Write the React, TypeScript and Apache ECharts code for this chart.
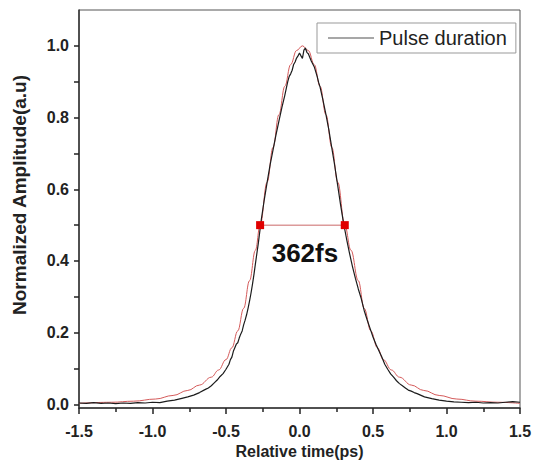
import React, { useEffect, useRef } from "react";
import * as echarts from "echarts";

// Measured autocorrelation trace (black)
const measuredX = [
  -1.5, -1.45, -1.4, -1.35, -1.3, -1.25, -1.2, -1.15, -1.1, -1.05, -1.0, -0.95, -0.9, -0.85, -0.8, -0.76,
  -0.72, -0.68, -0.64, -0.62, -0.6, -0.58, -0.56, -0.54, -0.52, -0.5, -0.48, -0.47, -0.46, -0.45, -0.44,
  -0.43, -0.42, -0.41, -0.4, -0.39, -0.38, -0.37, -0.36, -0.35, -0.34, -0.33, -0.32, -0.31, -0.3, -0.28,
  -0.26, -0.24, -0.22, -0.2, -0.18, -0.16, -0.14, -0.12, -0.1, -0.08, -0.07, -0.06, -0.05, -0.04, -0.03,
  -0.02, -0.01, 0.0, 0.01, 0.02, 0.03, 0.04, 0.05, 0.06, 0.08, 0.1, 0.12, 0.13, 0.14, 0.16, 0.18, 0.2,
  0.22, 0.24, 0.26, 0.28, 0.3, 0.32, 0.34, 0.36, 0.38, 0.4, 0.42, 0.44, 0.46, 0.48, 0.5, 0.52, 0.54,
  0.56, 0.58, 0.6, 0.62, 0.64, 0.66, 0.68, 0.7, 0.72, 0.74, 0.76, 0.78, 0.8, 0.85, 0.9, 0.95, 1.0, 1.05,
  1.1, 1.15, 1.2, 1.25, 1.3, 1.35, 1.4, 1.45, 1.5,
];
const measuredY = [
  0.004, 0.003, 0.005, 0.003, 0.004, 0.002, 0.004, 0.003, 0.005, 0.004, 0.006, 0.005, 0.009, 0.012, 0.017, 0.021,
  0.026, 0.033, 0.042, 0.046, 0.052, 0.06, 0.068, 0.078, 0.086, 0.098, 0.112, 0.125, 0.132, 0.148, 0.158,
  0.168, 0.172, 0.185, 0.196, 0.205, 0.222, 0.235, 0.25, 0.268, 0.288, 0.31, 0.335, 0.362, 0.392, 0.45,
  0.515, 0.57, 0.62, 0.668, 0.71, 0.752, 0.79, 0.828, 0.862, 0.9, 0.915, 0.922, 0.932, 0.948, 0.955,
  0.966, 0.972, 0.98, 0.972, 0.965, 0.988, 0.994, 0.982, 0.978, 0.958, 0.942, 0.915, 0.898, 0.885, 0.848, 0.808, 0.765,
  0.715, 0.665, 0.61, 0.555, 0.505, 0.462, 0.422, 0.385, 0.352, 0.322, 0.295, 0.262, 0.236, 0.212, 0.188, 0.168, 0.15,
  0.132, 0.112, 0.098, 0.085, 0.076, 0.066, 0.058, 0.052, 0.046, 0.04, 0.037, 0.033, 0.03, 0.021, 0.016, 0.012, 0.009, 0.007,
  0.006, 0.005, 0.006, 0.004, 0.005, 0.004, 0.006, 0.008, 0.006,
];

// Fitted curve (red)
const fitX = [
  -1.5, -1.28, -1.13, -0.98, -0.86, -0.76, -0.68, -0.6, -0.55, -0.5, -0.46, -0.42, -0.38, -0.34, -0.3,
  -0.268, -0.22, -0.18, -0.14, -0.1, -0.06, -0.02, 0.02, 0.06, 0.1, 0.14, 0.18, 0.22, 0.26, 0.308, 0.35,
  0.4, 0.44, 0.485, 0.53, 0.57, 0.625, 0.68, 0.76, 0.845, 0.95, 1.07, 1.2, 1.35, 1.5,
];
const fitY = [
  0.003, 0.006, 0.009, 0.015, 0.025, 0.039, 0.054, 0.076, 0.096, 0.125, 0.158, 0.205, 0.268, 0.345, 0.43,
  0.5, 0.62, 0.717, 0.808, 0.887, 0.948, 0.987, 1.0, 0.987, 0.948, 0.887, 0.808, 0.717, 0.62, 0.5, 0.43,
  0.345, 0.268, 0.205, 0.158, 0.125, 0.096, 0.076, 0.054, 0.039, 0.025, 0.015, 0.009, 0.006, 0.003,
];

// FWHM markers
const fwhmX = [-0.268, 0.308];
const fwhmY = [0.5, 0.5];
const fwhmLabel = "362fs";
const fwhmLabelPos = [0.037, 0.422];

// y ticks every 0.1, labels every 0.2
const yTickValues = [0, 0.1, 0.2, 0.3, 0.4, 0.5, 0.6, 0.7, 0.8, 0.9, 1.0];

const zip = (xs: number[], ys: number[]) => xs.map((x, i) => [x, ys[i]]);

export default function App() {
  const ref = useRef<HTMLDivElement>(null);
  useEffect(() => {
    if (!ref.current) return;
    const chart = echarts.init(ref.current, undefined, { renderer: "svg" });
    const font = "'Liberation Sans', Arial, sans-serif";
    chart.setOption({
      animation: false,
      backgroundColor: "#ffffff",
      textStyle: { fontFamily: font },
      grid: {
        left: 79,
        right: 18,
        top: 10,
        bottom: 64,
        show: true,
        borderColor: "#555",
        borderWidth: 1,
      },
      legend: {
        left: 317,
        top: 23,
        orient: "horizontal",
        borderColor: "#999",
        borderWidth: 1,
        borderRadius: 0,
        padding: [5, 9, 5, 11],
        itemWidth: 46,
        itemHeight: 14,
        textStyle: { fontSize: 20, color: "#222", fontFamily: font },
        data: [
          {
            name: "Pulse duration",
            icon: "path://M0,0L46,0L46,1.5L0,1.5Z",
            itemStyle: { color: "#8a8a8a" },
          },
        ],
      },
      xAxis: {
        type: "value",
        min: -1.5,
        max: 1.5,
        interval: 0.5,
        name: "Relative time(ps)",
        nameLocation: "middle",
        nameGap: 28,
        nameTextStyle: { fontSize: 16, fontWeight: "bold", color: "#222", fontFamily: font },
        axisLine: { show: true, onZero: false, lineStyle: { color: "#333", width: 1.5 } },
        axisTick: { show: true, inside: false, length: 6, lineStyle: { color: "#222", width: 1.5 } },
        minorTick: { show: true, splitNumber: 2, length: 4, lineStyle: { color: "#222", width: 1.5 } },
        axisLabel: {
          fontSize: 16,
          fontWeight: "bold",
          color: "#222",
          margin: 15,
          fontFamily: font,
          formatter: (v: number) => v.toFixed(1),
        },
        splitLine: { show: false },
      },
      yAxis: {
        type: "value",
        min: -0.01,
        max: 1.1,
        name: "Normalized Amplitude(a.u)",
        nameLocation: "middle",
        nameGap: 50,
        nameTextStyle: {
          fontSize: 19,
          fontWeight: "bold",
          color: "#222",
          fontFamily: font,
          padding: [0, 0, 0, 28],
        },
        axisLine: { show: true, onZero: false, lineStyle: { color: "#333", width: 1.5 } },
        axisTick: {
          show: true,
          length: 5,
          customValues: yTickValues,
          lineStyle: { color: "#222", width: 1.5 },
        },
        axisLabel: {
          fontSize: 16,
          fontWeight: "bold",
          color: "#222",
          margin: 10,
          fontFamily: font,
          customValues: yTickValues,
          formatter: (v: number) => (Math.round(v * 10) % 2 === 0 ? v.toFixed(1) : ""),
        },
        splitLine: { show: false },
      },
      series: [
        {
          name: "Fit",
          type: "line",
          data: zip(fitX, fitY),
          smooth: 0.4,
          smoothMonotone: "x",
          showSymbol: false,
          symbol: "none",
          lineStyle: { color: "#d45a5a", width: 1 },
          z: 2,
        },
        {
          name: "Pulse duration",
          type: "line",
          data: zip(measuredX, measuredY),
          showSymbol: false,
          symbol: "none",
          lineStyle: { color: "#1c1c1c", width: 1.2 },
          z: 3,
        },
        {
          name: "FWHM",
          type: "line",
          data: zip(fwhmX, fwhmY),
          symbol: "rect",
          symbolSize: 8,
          itemStyle: { color: "#e00000" },
          lineStyle: { color: "#dc9a9a", width: 1.5 },
          z: 4,
        },
        {
          name: "FWHM label",
          type: "scatter",
          data: [fwhmLabelPos],
          symbolSize: 1,
          itemStyle: { color: "rgba(0,0,0,0)", opacity: 1 },
          label: {
            show: true,
            position: "inside",
            formatter: fwhmLabel,
            fontSize: 26,
            fontWeight: "bold",
            color: "#111",
            opacity: 1,
            fontFamily: font,
          },
          z: 5,
        },
      ],
    });
    return () => chart.dispose();
  }, []);
  return (
    <div
      ref={ref}
      style={{ position: "fixed", left: 0, top: 0, width: 538, height: 472, background: "#fff" }}
    />
  );
}
